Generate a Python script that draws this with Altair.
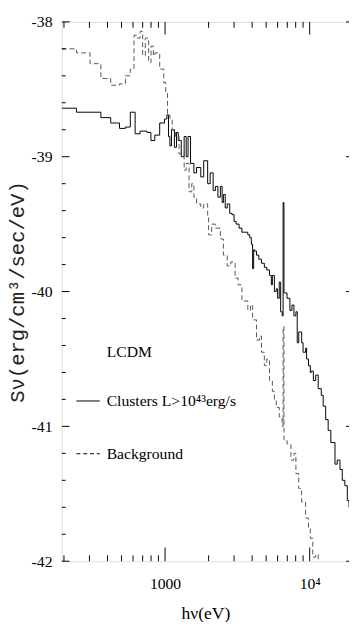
import altair as alt
import pandas as pd

# ---- data (photon energy in eV, log10 S_nu) ----
clusters_E = [193, 244, 360, 421, 484, 532, 575, 621, 672, 750,
              798, 849, 918, 992, 1030, 1056, 1080, 1107, 1160, 1200,
              1234, 1294, 1355, 1400, 1442, 1500, 1583, 1650, 1766, 1850,
              1970, 2050, 2150, 2230, 2320, 2412, 2480, 2532, 2607, 2690,
              2800, 2906, 3000, 3100, 3250, 3400, 3550, 3735, 3850, 3950,
              4030, 4100, 4160, 4290, 4450, 4640, 4860, 5050, 5270, 5430,
              5520, 5700, 5870, 6000, 6160, 6300, 6450, 6550, 6640, 6970,
              7300, 7540, 7780, 8030, 8200, 8400, 8800, 9000, 9370, 9520,
              9810, 10100, 10260, 10600, 11000, 11450, 12030, 12400, 12900, 13420,
              14000, 14960, 15500, 16200, 16800, 17500, 18200, 18700]
clusters_S = [-38.64, -38.67, -38.71, -38.75, -38.79, -38.78, -38.67, -38.83, -38.81, -38.82,
              -38.88, -38.84, -38.75, -38.72, -38.69, -38.85, -38.92, -38.80, -38.93, -38.82,
              -38.88, -39.00, -38.85, -39.00, -38.85, -39.05, -39.12, -39.08, -39.15, -39.03,
              -39.20, -39.12, -39.25, -39.22, -39.30, -39.22, -39.34, -39.28, -39.38, -39.35,
              -39.42, -39.43, -39.48, -39.50, -39.53, -39.56, -39.56, -39.58, -39.60, -39.65,
              -39.83, -39.69, -39.70, -39.73, -39.76, -39.79, -39.82, -39.84, -39.88, -39.95,
              -39.88, -40.00, -39.98, -40.05, -39.93, -40.15, -40.18, -39.34, -40.01, -40.05,
              -40.14, -40.10, -40.18, -40.15, -40.38, -40.30, -40.38, -40.45, -40.42, -40.50,
              -40.55, -40.60, -40.59, -40.66, -40.62, -40.72, -40.77, -40.85, -40.95, -41.03,
              -41.12, -41.28, -41.25, -41.32, -41.40, -41.44, -41.55, -41.60]

background_E = [193, 244, 303, 360, 421, 484, 532, 575, 610, 640,
                672, 700, 730, 770, 800, 830, 849, 918, 980, 1010,
                1040, 1080, 1120, 1180, 1250, 1355, 1400, 1465, 1530, 1583,
                1650, 1766, 1850, 1970, 2000, 2100, 2230, 2412, 2532, 2690,
                2850, 3050, 3200, 3400, 3735, 3900, 4030, 4290, 4500, 4640,
                4860, 5050, 5270, 5520, 5700, 5870, 6160, 6450, 6550, 6640,
                6970, 7420, 7780, 8030, 8400, 8800, 9370, 9810, 10100, 10500,
                11000, 11450]
background_S = [-38.20, -38.23, -38.31, -38.42, -38.47, -38.46, -38.40, -38.35, -38.10, -38.12,
                -38.07, -38.25, -38.12, -38.30, -38.18, -38.25, -38.23, -38.35, -38.45, -38.53,
                -38.69, -38.72, -38.80, -38.85, -38.98, -39.10, -39.05, -39.26, -39.20, -39.30,
                -39.35, -39.38, -39.35, -39.45, -39.58, -39.50, -39.53, -39.61, -39.73, -39.81,
                -39.78, -39.90, -39.95, -40.07, -40.14, -40.10, -40.21, -40.36, -40.33, -40.45,
                -40.55, -40.50, -40.66, -40.74, -40.80, -40.86, -40.93, -41.00, -40.26, -41.10,
                -41.13, -41.25, -41.20, -41.35, -41.46, -41.56, -41.68, -41.75, -41.83, -41.97,
                -41.95, -42.05]

x_major = [1000, 10000]
x_minor = [200, 300, 400, 500, 600, 700, 800, 900,
           2000, 3000, 4000, 5000, 6000, 7000, 8000, 9000]
y_major = [-38, -39, -40, -41, -42]
y_minor = [-38.2, -38.4, -38.6, -38.8, -39.2, -39.4, -39.6, -39.8,
           -40.2, -40.4, -40.6, -40.8, -41.2, -41.4, -41.6, -41.8]

legend_title = "LCDM"
legend_clusters = "Clusters L>10\u2074\u00b3erg/s"
legend_background = "Background"

W, H = 294, 552
SERIF = "Liberation Serif"

xs = alt.Scale(type="log", domain=[193, 18700], nice=False)
ys = alt.Scale(domain=[-42, -38], nice=False)

df_c = pd.DataFrame({"E": clusters_E, "S": clusters_S})
df_b = pd.DataFrame({"E": background_E, "S": background_S})

x_axis = alt.Axis(values=x_major, labelExpr="datum.value == 1000 ? '1000' : '10\u2074'",
                  title="h\u03bd(eV)", ticks=False, tickSize=0, domain=False, grid=False,
                  labelPadding=15, labelFont=SERIF, labelFontSize=16, labelColor="black",
                  labelFlush=False,
                  titleFont=SERIF, titleFontSize=18, titleFontWeight="normal",
                  titleColor="black", titlePadding=14)
y_axis = alt.Axis(values=y_major, labelExpr="'' + datum.value",
                  title="S\u03bd(erg/cm\u00b3/sec/eV)", ticks=False, tickSize=0, domain=False,
                  grid=False, labelPadding=10, labelFont=SERIF, labelFontSize=16,
                  labelColor="black", labelFlush=False,
                  titleFont="Liberation Mono", titleFontSize=21, titleFontWeight="normal",
                  titleColor="#222222", titlePadding=4)

X = alt.X("E:Q", scale=xs, axis=x_axis)
Y = alt.Y("S:Q", scale=ys, axis=y_axis)

clusters = alt.Chart(df_c).mark_line(
    interpolate="step-after", color="black", strokeWidth=1, clip=True
).encode(x=X, y=Y)

background = alt.Chart(df_b).mark_line(
    interpolate="step-after", color="#555555", strokeWidth=1, strokeDash=[5, 3], clip=True
).encode(x=X, y=Y)


def xticks(vals, y0, y1):
    return alt.Chart(pd.DataFrame({"E": vals})).mark_rule(color="black", strokeWidth=1).encode(
        x=X, y=alt.value(y0), y2=alt.value(y1))


def yticks(vals, x0, x1):
    return alt.Chart(pd.DataFrame({"S": vals})).mark_rule(color="black", strokeWidth=1).encode(
        y=Y, x=alt.value(x0), x2=alt.value(x1))


ticks = [
    xticks(x_minor, H, H - 6), xticks(x_major, H, H - 14),
    xticks(x_minor, 0, 6), xticks(x_major, 0, 13),
    yticks(y_minor, 0, 4), yticks(y_major, 0, 8),
    yticks(y_major, W - 3, W),
]

one = alt.Data(values=[{}])


def label(txt, x, y):
    return alt.Chart(one).mark_text(
        font=SERIF, fontSize=16, color="black", align="left", baseline="middle"
    ).encode(x=alt.value(x), y=alt.value(y), text=alt.value(txt))


def sample(y, dash=None):
    kw = {"strokeDash": dash} if dash else {}
    return alt.Chart(one).mark_rule(color="black", strokeWidth=1, **kw).encode(
        x=alt.value(15), x2=alt.value(39), y=alt.value(y))


legend = [
    label(legend_title, 46, 338),
    sample(388), label(legend_clusters, 46, 388),
    sample(442, [4, 3]), label(legend_background, 46, 442),
]

chart = alt.layer(clusters, background, *ticks, *legend).properties(
    width=W, height=H,
    autosize=alt.AutoSizeParams(type="none"),
    padding={"left": 55, "top": 7, "right": 0, "bottom": 55},
).configure_view(stroke="black", strokeWidth=1.2).configure(background="white")

chart.save("out.html", embed_options={"renderer": "svg", "actions": False})
